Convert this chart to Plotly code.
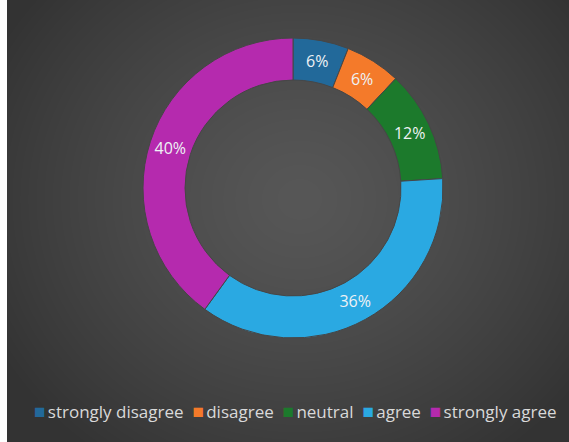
import base64
import struct
import zlib

import numpy as np
import plotly.graph_objects as go

# Survey response shares (percent)
categories = ["strongly disagree", "disagree", "neutral", "agree", "strongly agree"]
shares = [6, 6, 12, 36, 40]
colors = ["#22699a", "#f47a2a", "#1c7a2c", "#2aa9e2", "#b52aae"]

W, H = 569, 442
LEFT_STRIP = 7
FONT = "Open Sans, Roboto, sans-serif"


def gradient_png(w, h):
    """Radial dark-grey backdrop encoded as a PNG data URI."""
    yy, xx = np.mgrid[0:h, 0:w]
    cx, cy = w * 0.52, h * 0.45
    r = np.sqrt(((xx - cx) / (w * 0.62)) ** 2 + ((yy - cy) / (h * 0.72)) ** 2)
    r = np.clip(r, 0, 1)
    v = (0x57 - (0x57 - 0x33) * r ** 1.3).astype(np.uint8)
    raw = b"".join(b"\x00" + bytes(np.repeat(row, 3)) for row in v)

    def chunk(tag, data):
        c = struct.pack(">I", len(data)) + tag + data
        return c + struct.pack(">I", zlib.crc32(tag + data) & 0xFFFFFFFF)

    png = b"\x89PNG\r\n\x1a\n"
    png += chunk(b"IHDR", struct.pack(">IIBBBBB", w, h, 8, 2, 0, 0, 0))
    png += chunk(b"IDAT", zlib.compress(raw, 9))
    png += chunk(b"IEND", b"")
    return "data:image/png;base64," + base64.b64encode(png).decode()


cx, cy, rad = 293, 188, 150

fig = go.Figure(
    go.Pie(
        labels=categories,
        values=shares,
        hole=0.72,
        sort=False,
        direction="clockwise",
        rotation=0,
        marker=dict(colors=colors, line=dict(color="#464646", width=1)),
        textinfo="percent",
        textposition="inside",
        insidetextorientation="horizontal",
        textfont=dict(family=FONT, size=16, color="#eef2f5"),
        domain=dict(
            x=[(cx - rad) / W, (cx + rad) / W],
            y=[(H - cy - rad) / H, (H - cy + rad) / H],
        ),
        showlegend=False,
    )
)

# Inline legend row: coloured square, a thin gap, then its label
legend_html = "&nbsp;&nbsp;".join(
    f'<span style="color:{c};font-size:19px">■</span>'
    f'<span style="font-size:9px">&nbsp;</span>{name}'
    for name, c in zip(categories, colors)
)

fig.update_layout(
    width=W,
    height=H,
    margin=dict(l=0, r=0, t=0, b=0),
    paper_bgcolor="white",
    images=[
        dict(
            source=gradient_png(W - LEFT_STRIP, H),
            xref="paper",
            yref="paper",
            x=LEFT_STRIP / W,
            y=1,
            sizex=(W - LEFT_STRIP) / W,
            sizey=1,
            xanchor="left",
            yanchor="top",
            sizing="stretch",
            layer="below",
        )
    ],
    annotations=[
        dict(
            text=legend_html,
            xref="paper",
            yref="paper",
            x=295 / W,
            y=(H - 411) / H,
            xanchor="center",
            yanchor="middle",
            showarrow=False,
            font=dict(family=FONT, size=17, color="#d9d9d9"),
        )
    ],
    font=dict(family=FONT),
)

fig.write_html("out.html")
